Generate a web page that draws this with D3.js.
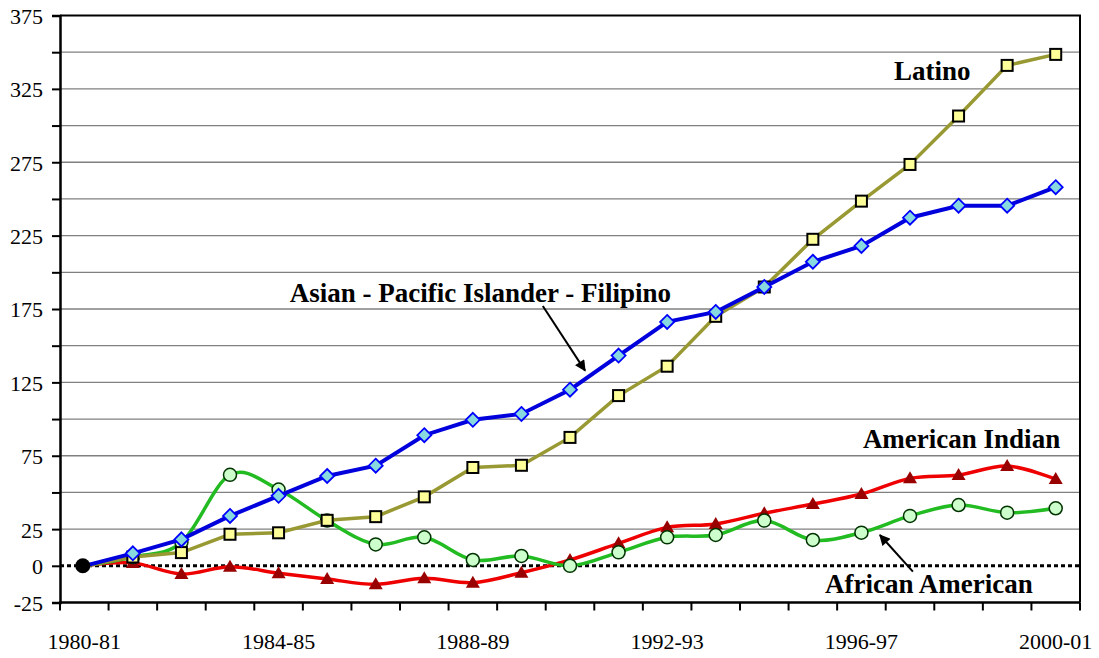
<!DOCTYPE html>
<html>
<head>
<meta charset="utf-8">
<script src="https://cdnjs.cloudflare.com/ajax/libs/d3/7.8.5/d3.min.js"></script>
<style>
  body { margin: 0; background: #fff; }
  svg { display: block; }
</style>
</head>
<body>
<div id="chart"></div>
<script>
// school years (x categories)
var years = ["1980-81", "1981-82", "1982-83", "1983-84", "1984-85", "1985-86", "1986-87",
  "1987-88", "1988-89", "1989-90", "1990-91", "1991-92", "1992-93", "1993-94", "1994-95",
  "1995-96", "1996-97", "1997-98", "1998-99", "1999-00", "2000-01"]
var yearLabels = ["1980-81", "1984-85", "1988-89", "1992-93", "1996-97", "2000-01"]

// percent change since 1980-81
var latino = [0, 6, 9, 21.5, 22.5, 31, 33.5, 47, 67, 68.5, 87.5, 116, 136, 170, 190,
  222.5, 248.5, 273.5, 306.5, 341, 348.5]
var asian = [0, 8.5, 18, 34, 47.7, 61.2, 68.2, 89, 99.5, 103.5, 120, 143.3, 166.2, 173, 190,
  207.2, 218, 237.2, 245.4, 245.4, 258]
var african = [0, 6, 16, 62, 52, 30.8, 14.6, 19.4, 4, 6.7, 0, 9.2, 19.4, 21, 30.8,
  17.6, 22.6, 34, 41.4, 36.2, 39.2]
var amIndian = [0, 2, -5.6, -0.6, -5, -9, -12.6, -8.5, -11.5, -4.7, 4, 15.3, 26.2, 28.5, 35.8,
  42.1, 48.9, 59.6, 61.9, 68, 59.1]

var yTicks = [-25, 0, 25, 50, 75, 100, 125, 150, 175, 200, 225, 250, 275, 300, 325, 350, 375]
var yLabels = [-25, 0, 25, 75, 125, 175, 225, 275, 325, 375]

var serif = "'Liberation Serif', 'Times New Roman', serif"
var width = 1099, height = 658
var margin = {top: 15.5, right: 19, bottom: 55.5, left: 60}

var svg = d3.select("#chart").append("svg")
  .attr("width", width)
  .attr("height", height)

// x uses the category index; each year sits in the middle of its slot
var x = d3.scaleLinear()
  .domain([0, years.length])
  .range([margin.left, width - margin.right])

var y = d3.scaleLinear()
  .domain([-25, 375])
  .range([height - margin.bottom, margin.top])

// gridlines
svg.append("g")
  .selectAll("line")
  .data(yTicks.filter(function (d) { return d > 0 && d < 375 }))
  .enter().append("line")
  .attr("x1", x(0))
  .attr("x2", x(years.length))
  .attr("y1", function (d) { return y(d) })
  .attr("y2", function (d) { return y(d) })
  .attr("stroke", "#808080")
  .attr("stroke-width", 1.3)

// zero line, dotted
svg.append("line")
  .attr("x1", x(0))
  .attr("x2", x(years.length))
  .attr("y1", y(0))
  .attr("y2", y(0))
  .attr("stroke", "#000")
  .attr("stroke-width", 3)
  .attr("stroke-dasharray", "4,3")

// frame top + right
svg.append("path")
  .attr("d", "M" + x(0) + "," + y(375) + "H" + x(years.length) + "V" + y(-25))
  .attr("fill", "none")
  .attr("stroke", "#000")
  .attr("stroke-width", 2)

// y axis
var yAxis = svg.append("g")
  .attr("transform", "translate(" + x(0) + ",0)")
  .call(d3.axisLeft(y)
    .tickValues(yTicks)
    .tickSize(8)
    .tickPadding(9)
    .tickFormat(function (d) { return yLabels.indexOf(d) >= 0 ? d : "" }))
yAxis.select(".domain").attr("stroke-width", 2.5)
yAxis.selectAll(".tick line").attr("stroke-width", 2)
yAxis.selectAll(".tick text")
  .attr("dy", "0.36em")
  .style("font-family", serif)
  .style("font-size", "22px")
  .style("fill", "#000")

// x axis: ticks on slot boundaries, labels centred
var xAxis = svg.append("g")
  .attr("transform", "translate(0," + y(-25) + ")")
xAxis.append("line")
  .attr("x1", x(0) - 1)
  .attr("x2", x(years.length))
  .attr("stroke", "#000")
  .attr("stroke-width", 2.5)
xAxis.selectAll(".xt")
  .data(d3.range(years.length + 1))
  .enter().append("line")
  .attr("class", "xt")
  .attr("x1", function (d) { return x(d) })
  .attr("x2", function (d) { return x(d) })
  .attr("y1", 0)
  .attr("y2", 8)
  .attr("stroke", "#000")
  .attr("stroke-width", 2)
xAxis.selectAll(".xl")
  .data(yearLabels)
  .enter().append("text")
  .attr("class", "xl")
  .attr("x", function (d) { return x(years.indexOf(d) + 0.5) })
  .attr("y", 46)
  .attr("text-anchor", "middle")
  .style("font-family", serif)
  .style("font-size", "22px")
  .text(function (d) { return d })

function px(d, i) { return x(i + 0.5) }

var smooth = d3.line().x(px).y(function (d) { return y(d) }).curve(d3.curveCardinal.tension(0))
var straight = d3.line().x(px).y(function (d) { return y(d) })

// American Indian
svg.append("path")
  .datum(amIndian)
  .attr("d", smooth)
  .attr("fill", "none")
  .attr("stroke", "#ee0000")
  .attr("stroke-width", 3.5)

svg.append("g").selectAll("path")
  .data(amIndian.map(function (d, i) { return [i, d] }).slice(1))
  .enter().append("path")
  .attr("d", "M0,-7L7,5L-7,5Z")
  .attr("transform", function (d) { return "translate(" + x(d[0] + 0.5) + "," + y(d[1]) + ")" })
  .attr("fill", "#990000")

// African American
svg.append("path")
  .datum(african)
  .attr("d", smooth)
  .attr("fill", "none")
  .attr("stroke", "#22bb22")
  .attr("stroke-width", 3.5)

svg.append("g").selectAll("circle")
  .data(african.map(function (d, i) { return [i, d] }).slice(1))
  .enter().append("circle")
  .attr("cx", function (d) { return x(d[0] + 0.5) })
  .attr("cy", function (d) { return y(d[1]) })
  .attr("r", 6.5)
  .attr("fill", "#ccffcc")
  .attr("stroke", "#003300")
  .attr("stroke-width", 1.5)

// Latino
svg.append("path")
  .datum(latino)
  .attr("d", straight)
  .attr("fill", "none")
  .attr("stroke", "#999933")
  .attr("stroke-width", 3.5)

svg.append("g").selectAll("rect")
  .data(latino.map(function (d, i) { return [i, d] }).slice(1))
  .enter().append("rect")
  .attr("x", function (d) { return x(d[0] + 0.5) - 5.5 })
  .attr("y", function (d) { return y(d[1]) - 5.5 })
  .attr("width", 11)
  .attr("height", 11)
  .attr("fill", "#ffff99")
  .attr("stroke", "#000")
  .attr("stroke-width", 2)

// Asian - Pacific Islander - Filipino
svg.append("path")
  .datum(asian)
  .attr("d", straight)
  .attr("fill", "none")
  .attr("stroke", "#0000dd")
  .attr("stroke-width", 4)

svg.append("g").selectAll("path")
  .data(asian.map(function (d, i) { return [i, d] }).slice(1))
  .enter().append("path")
  .attr("d", "M0,-7L7,0L0,7L-7,0Z")
  .attr("transform", function (d) { return "translate(" + x(d[0] + 0.5) + "," + y(d[1]) + ")" })
  .attr("fill", "#88d8e0")
  .attr("stroke", "#0000ff")
  .attr("stroke-width", 1.8)

// common start point
svg.append("circle")
  .attr("cx", x(0.5) - 1.5)
  .attr("cy", y(0))
  .attr("r", 7.5)
  .attr("fill", "#000")

// labels (positions in category-index / value units)
var notes = [
  {text: "Latino", i: 17.17, v: 331},
  {text: "Asian - Pacific Islander - Filipino", i: 4.73, v: 180},
  {text: "American Indian", i: 16.53, v: 80.3},
  {text: "African American", i: 15.75, v: -18.5}
]
svg.selectAll(".note")
  .data(notes)
  .enter().append("text")
  .attr("class", "note")
  .attr("x", function (d) { return x(d.i) })
  .attr("y", function (d) { return y(d.v) })
  .style("font-family", serif)
  .style("font-size", "27px")
  .style("font-weight", "bold")
  .text(function (d) { return d.text })

svg.append("defs").append("marker")
  .attr("id", "head")
  .attr("viewBox", "0 0 10 10")
  .attr("refX", 9)
  .attr("refY", 5)
  .attr("markerWidth", 6.5)
  .attr("markerHeight", 5.5)
  .attr("orient", "auto")
  .attr("markerUnits", "strokeWidth")
  .append("path")
  .attr("d", "M0,0L10,5L0,10Z")
  .attr("fill", "#000")

var arrows = [
  {i1: 9.94, v1: 177, i2: 10.81, v2: 133},
  {i1: 17.56, v1: -4, i2: 16.88, v2: 21}
]
svg.selectAll(".arrow")
  .data(arrows)
  .enter().append("line")
  .attr("class", "arrow")
  .attr("x1", function (d) { return x(d.i1) })
  .attr("y1", function (d) { return y(d.v1) })
  .attr("x2", function (d) { return x(d.i2) })
  .attr("y2", function (d) { return y(d.v2) })
  .attr("stroke", "#000")
  .attr("stroke-width", 2)
  .attr("marker-end", "url(#head)")
</script>
</body>
</html>
